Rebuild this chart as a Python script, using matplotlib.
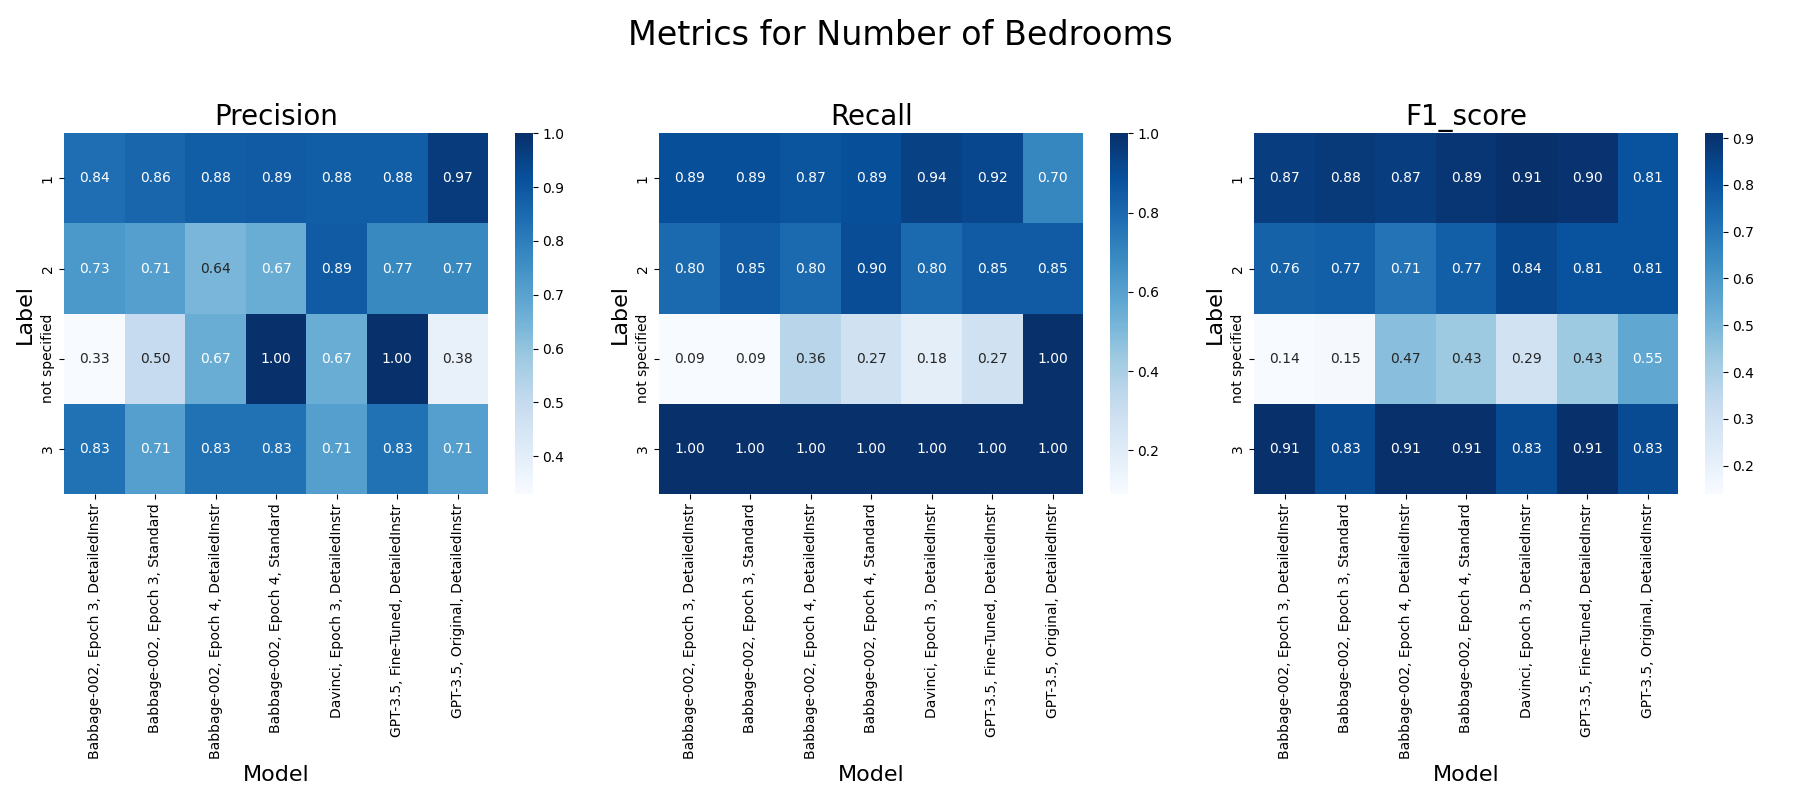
import numpy as np
import pandas as pd
import seaborn as sns
import matplotlib
matplotlib.use("Agg")
import matplotlib.pyplot as plt

models = [
    "Babbage-002, Epoch 3, DetailedInstr",
    "Babbage-002, Epoch 3, Standard",
    "Babbage-002, Epoch 4, DetailedInstr",
    "Babbage-002, Epoch 4, Standard",
    "Davinci, Epoch 3, DetailedInstr",
    "GPT-3.5, Fine-Tuned, DetailedInstr",
    "GPT-3.5, Original, DetailedInstr",
]
labels = ["1", "2", "not specified", "3"]

precision = [
    [0.84, 0.86, 0.88, 0.89, 0.88, 0.88, 0.97],
    [0.73, 0.71, 0.64, 0.67, 0.89, 0.77, 0.77],
    [0.33, 0.50, 0.67, 1.00, 0.67, 1.00, 0.38],
    [0.83, 0.71, 0.83, 0.83, 0.71, 0.83, 0.71],
]
recall = [
    [0.89, 0.89, 0.87, 0.89, 0.94, 0.92, 0.70],
    [0.80, 0.85, 0.80, 0.90, 0.80, 0.85, 0.85],
    [0.09, 0.09, 0.36, 0.27, 0.18, 0.27, 1.00],
    [1.00, 1.00, 1.00, 1.00, 1.00, 1.00, 1.00],
]
f1_score = [
    [0.87, 0.88, 0.87, 0.89, 0.91, 0.90, 0.81],
    [0.76, 0.77, 0.71, 0.77, 0.84, 0.81, 0.81],
    [0.14, 0.15, 0.47, 0.43, 0.29, 0.43, 0.55],
    [0.91, 0.83, 0.91, 0.91, 0.83, 0.91, 0.83],
]

metrics = {"Precision": precision, "Recall": recall, "F1_score": f1_score}

fig, axes = plt.subplots(1, 3, figsize=(18, 8))
fig.suptitle("Metrics for Number of Bedrooms", fontsize=24, y=0.976)

for ax, (name, vals) in zip(axes, metrics.items()):
    df = pd.DataFrame(vals, index=labels, columns=models)
    sns.heatmap(df, annot=True, fmt=".2f", cmap="Blues", ax=ax)
    ax.set_title(name, fontsize=20)
    ax.set_xlabel("Model", fontsize=16)
    ax.set_ylabel("Label", fontsize=16)
    ax.set_yticklabels(ax.get_yticklabels(), rotation=90, va="center")

plt.tight_layout(rect=[0, 0, 1, 0.95])
plt.savefig("out.png", dpi=100)
